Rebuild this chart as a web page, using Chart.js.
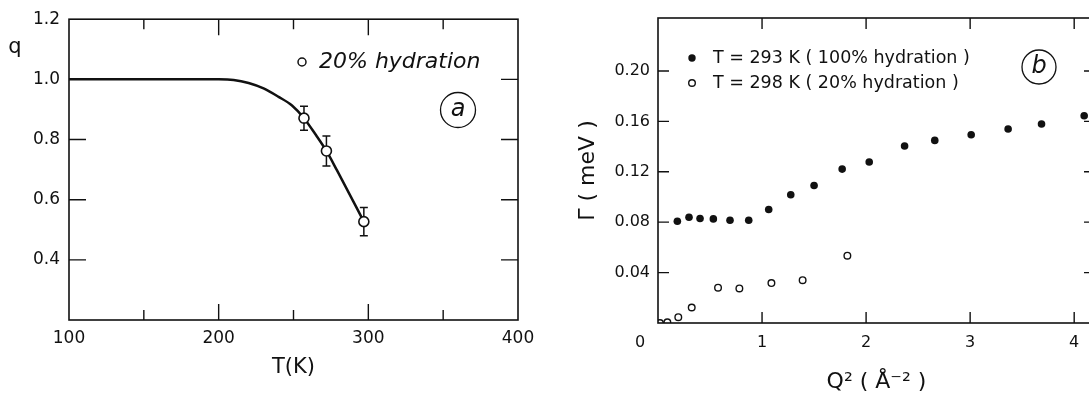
<!DOCTYPE html>
<html>
<head>
<meta charset="utf-8">
<script src="https://cdn.jsdelivr.net/npm/chart.js@4.4.1/dist/chart.umd.min.js"></script>
<style>
  html, body { margin: 0; padding: 0; background: #fff; overflow: hidden; }
  canvas { position: absolute; top: 0; }
  #chartA { left: 0; }
  #chartB { left: 545px; }
</style>
</head>
<body>
<canvas id="chartA" width="545" height="396"></canvas>
<canvas id="chartB" width="560" height="396"></canvas>
<script>
// panel (a): q versus temperature, 20% hydration
var tempK = [257, 272, 297];
var qValues = [0.871, 0.762, 0.527];
var qErrors = [0.04, 0.05, 0.047];
// the drawn guide curve
var fitT = [100, 200, 210, 220, 230, 240, 249, 257, 265, 272, 279, 297];
var fitQ = [1.0, 1.0, 0.998, 0.988, 0.970, 0.942, 0.913, 0.871, 0.815, 0.762, 0.698, 0.527];

// panel (b): linewidth versus Q^2
var q2Full = [0.186, 0.298, 0.404, 0.532, 0.692, 0.872, 1.064, 1.276, 1.5, 1.77, 2.03, 2.37, 2.66, 3.01, 3.365, 3.686, 4.096];
var gammaFull = [0.0807, 0.0839, 0.0829, 0.0826, 0.0815, 0.0815, 0.090, 0.1017, 0.1091, 0.1221, 0.1277, 0.1404, 0.1449, 0.1494, 0.1539, 0.1579, 0.1645];
var q2Low = [0.019, 0.09, 0.195, 0.324, 0.577, 0.782, 1.09, 1.39, 1.82];
var gammaLow = [0.0, 0.0006, 0.0046, 0.0123, 0.028, 0.0274, 0.0317, 0.034, 0.0534];

var xTicksA = [100, 200, 300, 400];
var yTicksA = [0.4, 0.6, 0.8, 1.0, 1.2];
var xTicksB = [1, 2, 3, 4];
var yTicksB = [0.04, 0.08, 0.12, 0.16, 0.20];

var INK = '#111';
var FONT = '"DejaVu Sans", "Liberation Sans", sans-serif';

function toPoints(xs, ys) {
	var pts = [];
	for (var i = 0; i < xs.length; i++) {
		pts.push({x: xs[i], y: ys[i]});
	}
	return pts;
}

function circleLabel(ctx, x, y, r, letter) {
	ctx.save();
	ctx.lineWidth = 1.3;
	ctx.strokeStyle = INK;
	ctx.beginPath();
	ctx.arc(x, y, r, 0, Math.PI * 2);
	ctx.stroke();
	ctx.fillStyle = INK;
	ctx.font = 'italic 24px ' + FONT;
	ctx.textAlign = 'center';
	ctx.textBaseline = 'middle';
	ctx.fillText(letter, x, y);
	ctx.restore();
}

// frame and inward tick marks on all four sides
function drawFrame(chart, xMarks, yMarks) {
	var ctx = chart.ctx;
	var a = chart.chartArea;
	var xs = chart.scales.x, ys = chart.scales.y;
	ctx.save();
	ctx.strokeStyle = INK;
	ctx.lineWidth = 1.6;
	ctx.strokeRect(a.left, a.top, a.right - a.left, a.bottom - a.top);
	ctx.lineWidth = 1.4;
	ctx.beginPath();
	xMarks.forEach(function (m) {
		var px = xs.getPixelForValue(m.v);
		ctx.moveTo(px, a.bottom); ctx.lineTo(px, a.bottom - m.len);
		ctx.moveTo(px, a.top); ctx.lineTo(px, a.top + m.len);
	});
	yMarks.forEach(function (m) {
		var py = ys.getPixelForValue(m.v);
		ctx.moveTo(a.left, py); ctx.lineTo(a.left + m.len, py);
		ctx.moveTo(a.right, py); ctx.lineTo(a.right - m.len, py);
	});
	ctx.stroke();
	ctx.restore();
}

var decorA = {
	id: 'decorA',
	beforeDatasetsDraw: function (chart) {
		// error bars sit under the open circles
		var ctx = chart.ctx;
		var xs = chart.scales.x, ys = chart.scales.y;
		ctx.save();
		ctx.strokeStyle = INK;
		ctx.lineWidth = 1.5;
		ctx.beginPath();
		for (var i = 0; i < tempK.length; i++) {
			var px = xs.getPixelForValue(tempK[i]);
			var top = ys.getPixelForValue(qValues[i] + qErrors[i]);
			var bot = ys.getPixelForValue(qValues[i] - qErrors[i]);
			ctx.moveTo(px, top); ctx.lineTo(px, bot);
			ctx.moveTo(px - 4, top); ctx.lineTo(px + 4, top);
			ctx.moveTo(px - 4, bot); ctx.lineTo(px + 4, bot);
		}
		ctx.stroke();
		ctx.restore();
	},
	afterDraw: function (chart) {
		var ctx = chart.ctx;
		var xMarks = [150, 200, 250, 300, 350].map(function (v) {
			return {v: v, len: v % 100 === 0 ? 16 : 10};
		});
		var yMarks = [0.4, 0.6, 0.8, 1.0].map(function (v) { return {v: v, len: 17}; });
		drawFrame(chart, xMarks, yMarks);

		ctx.save();
		ctx.fillStyle = INK;
		ctx.font = '21px ' + FONT;
		ctx.textAlign = 'center';
		ctx.textBaseline = 'middle';
		ctx.fillText('q', 15, 48);

		// legend
		ctx.lineWidth = 1.5;
		ctx.strokeStyle = INK;
		ctx.beginPath();
		ctx.arc(302, 62, 4, 0, Math.PI * 2);
		ctx.stroke();
		ctx.font = 'italic 22px ' + FONT;
		ctx.textAlign = 'left';
		ctx.fillText('20% hydration', 319, 62);
		ctx.restore();

		circleLabel(ctx, 458, 110, 17.5, 'a');
	}
};

var decorB = {
	id: 'decorB',
	afterDraw: function (chart) {
		var ctx = chart.ctx;
		var xMarks = xTicksB.map(function (v) { return {v: v, len: 11}; });
		var yMarks = yTicksB.map(function (v) { return {v: v, len: 11}; });
		drawFrame(chart, xMarks, yMarks);

		ctx.save();
		ctx.fillStyle = INK;
		ctx.strokeStyle = INK;
		ctx.font = '16px ' + FONT;
		ctx.textAlign = 'center';
		ctx.textBaseline = 'middle';
		ctx.fillText('0', chart.scales.x.getPixelForValue(0) - 18, 343);

		// legend
		ctx.beginPath();
		ctx.arc(147, 58, 3.7, 0, Math.PI * 2);
		ctx.fill();
		ctx.lineWidth = 1.4;
		ctx.beginPath();
		ctx.arc(147, 83, 3.3, 0, Math.PI * 2);
		ctx.stroke();
		ctx.font = '17.5px ' + FONT;
		ctx.textAlign = 'left';
		ctx.fillText('T = 293 K ( 100% hydration )', 168, 58);
		ctx.fillText('T = 298 K ( 20% hydration )', 168, 83);
		ctx.restore();

		circleLabel(ctx, 494, 67, 17, 'b');
	}
};

new Chart(document.getElementById('chartA'), {
	type: 'scatter',
	data: {
		datasets: [{
			data: toPoints(tempK, qValues),
			pointRadius: 5,
			pointBorderWidth: 1.6,
			pointBackgroundColor: '#fff',
			pointBorderColor: INK,
			showLine: false
		}, {
			data: toPoints(fitT, fitQ),
			showLine: true,
			borderColor: INK,
			borderWidth: 2.5,
			pointRadius: 0,
			cubicInterpolationMode: 'monotone',
			fill: false
		}]
	},
	options: {
		responsive: false,
		animation: false,
		events: [],
		layout: {padding: {left: 0, right: 27, top: 19, bottom: 0}},
		plugins: {legend: {display: false}, tooltip: {enabled: false}},
		scales: {
			x: {
				type: 'linear', min: 100, max: 400,
				afterFit: function (s) { s.height = 76; },
				grid: {display: false, drawTicks: false},
				border: {display: false},
				ticks: {
					stepSize: 100, padding: 8, maxRotation: 0, autoSkip: false,
					color: INK, font: {family: FONT, size: 17},
					callback: function (v) { return xTicksA.indexOf(v) >= 0 ? String(v) : ''; }
				},
				title: {display: true, text: 'T(K)', color: INK, font: {family: FONT, size: 21}, padding: {top: 0, bottom: 16}}
			},
			y: {
				min: 0.2, max: 1.2,
				afterFit: function (s) { s.width = 69; },
				grid: {display: false, drawTicks: false},
				border: {display: false},
				ticks: {
					stepSize: 0.2, padding: 9, autoSkip: false,
					color: INK, font: {family: FONT, size: 17},
					callback: function (v) {
						var r = Math.round(v * 10) / 10;
						return yTicksA.indexOf(r) >= 0 ? r.toFixed(1) : '';
					}
				}
			}
		}
	},
	plugins: [decorA]
});

new Chart(document.getElementById('chartB'), {
	type: 'scatter',
	data: {
		datasets: [{
			data: toPoints(q2Full, gammaFull),
			pointRadius: 3.8,
			pointBorderWidth: 0,
			pointBackgroundColor: INK
		}, {
			data: toPoints(q2Low, gammaLow),
			pointRadius: 3.3,
			pointBorderWidth: 1.4,
			pointBackgroundColor: '#fff',
			pointBorderColor: INK
		}]
	},
	options: {
		responsive: false,
		animation: false,
		events: [],
		layout: {padding: {left: 0, right: 10, top: 18, bottom: 0}},
		plugins: {legend: {display: false}, tooltip: {enabled: false}},
		scales: {
			x: {
				type: 'linear', min: 0, max: 4.2,
				afterFit: function (s) { s.height = 73; },
				grid: {display: false, drawTicks: false},
				border: {display: false},
				ticks: {
					stepSize: 1, padding: 10, maxRotation: 0, autoSkip: false, includeBounds: false,
					color: INK, font: {family: FONT, size: 16},
					callback: function (v) { return xTicksB.indexOf(v) >= 0 ? String(v) : ''; }
				},
				title: {display: true, text: 'Q² ( Å⁻² )', color: INK, font: {family: FONT, size: 22}, padding: {top: 0, bottom: 1}}
			},
			y: {
				min: 0, max: 0.242,
				afterFit: function (s) { s.width = 113; },
				grid: {display: false, drawTicks: false},
				border: {display: false},
				ticks: {
					stepSize: 0.04, padding: 8, autoSkip: false, includeBounds: false,
					color: INK, font: {family: FONT, size: 16},
					callback: function (v) {
						var r = Math.round(v * 100) / 100;
						return yTicksB.indexOf(r) >= 0 ? r.toFixed(2) : '';
					}
				},
				title: {display: true, text: 'Γ ( meV )', color: INK, font: {family: FONT, size: 22}, padding: {top: 30, bottom: 0}}
			}
		}
	},
	plugins: [decorB]
});
</script>
</body>
</html>
